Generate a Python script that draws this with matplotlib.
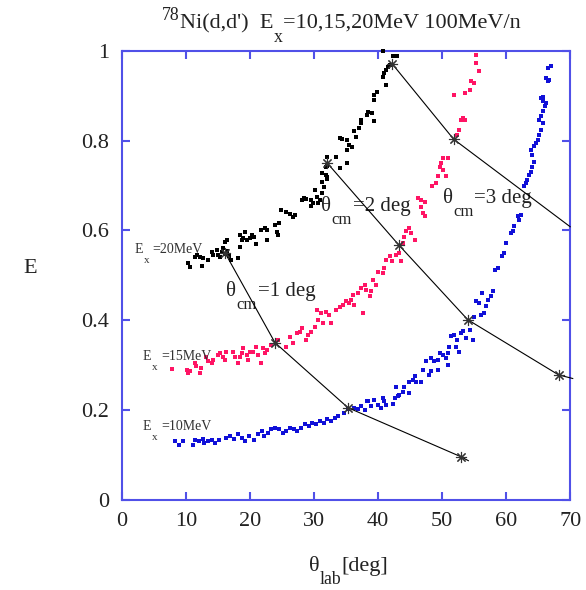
import matplotlib
matplotlib.use("Agg")
import matplotlib.pyplot as plt

# data
ex20_th = [10.4, 10.6, 11.4, 11.8, 12.2, 12.5, 12.6, 13.4, 14.0, 14.2, 14.8, 15.0, 15.3, 15.6,
           15.8, 16.1, 16.4, 16.1, 16.4, 16.8, 17.1, 18.1, 18.4, 18.7, 18.4, 18.9, 19.2, 19.5,
           20.0, 20.3, 20.7, 21.0, 21.8, 22.3, 22.6, 22.6, 23.9, 24.2, 24.6, 24.3, 24.9, 25.7,
           26.2, 26.7, 27.0, 28.1, 28.5, 29.6, 29.8, 30.4, 30.9, 30.6, 29.6, 28.8, 30.1, 31.2,
           31.6, 31.2, 32.0, 31.3, 31.8, 32.1, 31.8, 32.0, 32.1, 33.5, 35.1, 34.0, 34.0, 34.3,
           35.2, 35.5, 35.9, 35.1, 36.3, 36.6, 37.1, 37.3, 37.4, 38.2, 38.4, 39.0, 39.4, 39.3,
           39.4, 39.8, 40.7, 41.2, 41.0, 41.3, 41.5, 41.8, 40.8, 42.3, 42.9]
ex20_e = [0.528, 0.519, 0.541, 0.546, 0.541, 0.521, 0.539, 0.535, 0.552, 0.546, 0.557, 0.546,
          0.541, 0.552, 0.560, 0.548, 0.555, 0.574, 0.579, 0.543, 0.535, 0.539, 0.563, 0.579,
          0.590, 0.584, 0.597, 0.579, 0.584, 0.590, 0.586, 0.570, 0.601, 0.606, 0.601, 0.579,
          0.612, 0.597, 0.617, 0.590, 0.646, 0.641, 0.637, 0.630, 0.635, 0.668, 0.673, 0.668,
          0.661, 0.675, 0.668, 0.661, 0.655, 0.670, 0.690, 0.684, 0.697, 0.708, 0.719, 0.728,
          0.724, 0.715, 0.742, 0.744, 0.764, 0.764, 0.751, 0.739, 0.806, 0.804, 0.802, 0.791,
          0.786, 0.780, 0.822, 0.808, 0.829, 0.840, 0.846, 0.857, 0.864, 0.862, 0.844, 0.891,
          0.902, 0.909, 0.942, 0.924, 0.951, 0.958, 0.964, 0.969, 1.000, 0.989, 0.989]

ex15_th = [7.9, 10.2, 10.6, 10.3, 11.4, 11.6, 12.2, 12.4, 13.2, 13.4, 14.0, 14.2, 15.0, 15.3,
           15.8, 16.1, 16.3, 17.3, 17.6, 18.1, 18.4, 18.7, 18.9, 19.5, 19.7, 20.0, 20.4, 21.0,
           21.2, 21.8, 22.0, 22.3, 22.6, 23.3, 24.4, 25.7, 26.2, 26.7, 27.3, 27.8, 28.2, 28.8,
           29.0, 29.6, 30.1, 30.4, 30.6, 31.1, 31.4, 31.9, 32.4, 32.7, 33.5, 34.0, 34.5, 35.0,
           35.5, 35.8, 36.1, 36.3, 36.8, 37.4, 37.6, 37.9, 38.1, 38.7, 38.9, 39.2, 39.7, 40.0,
           40.7, 41.0, 41.3, 41.8, 42.1, 42.8, 43.3, 43.6, 43.9, 44.1, 44.9, 44.4, 45.2, 45.7,
           44.0, 46.2, 46.7, 47.3, 46.7, 47.0, 47.3, 48.5, 49.1, 49.3, 49.6, 49.8, 50.1, 50.6,
           50.1, 50.9, 52.4, 52.7, 53.0, 53.2, 53.5, 51.9, 53.5, 54.3, 54.5, 55.0, 55.8, 55.3,
           55.3]
ex15_e = [0.291, 0.290, 0.286, 0.283, 0.305, 0.297, 0.283, 0.294, 0.319, 0.308, 0.305, 0.312,
          0.323, 0.327, 0.319, 0.312, 0.330, 0.330, 0.319, 0.305, 0.319, 0.327, 0.338, 0.323,
          0.312, 0.330, 0.330, 0.341, 0.323, 0.305, 0.338, 0.327, 0.334, 0.345, 0.356, 0.341,
          0.363, 0.350, 0.372, 0.374, 0.383, 0.356, 0.367, 0.374, 0.385, 0.423, 0.401, 0.416,
          0.394, 0.419, 0.412, 0.394, 0.423, 0.430, 0.434, 0.442, 0.438, 0.445, 0.457, 0.434,
          0.460, 0.471, 0.416, 0.479, 0.468, 0.453, 0.464, 0.490, 0.479, 0.508, 0.505, 0.516,
          0.535, 0.542, 0.531, 0.546, 0.549, 0.531, 0.572, 0.586, 0.605, 0.598, 0.594, 0.579,
          0.586, 0.672, 0.668, 0.664, 0.653, 0.638, 0.631, 0.698, 0.705, 0.720, 0.742, 0.750,
          0.735, 0.720, 0.761, 0.761, 0.813, 0.824, 0.846, 0.850, 0.846, 0.902, 0.906, 0.913,
          0.932, 0.928, 0.954, 0.973, 0.991]

ex10_th = [8.3, 8.9, 9.6, 11.1, 11.4, 12.0, 12.6, 12.8, 13.4, 14.0, 14.6, 15.2, 16.3, 16.9,
           17.5, 18.1, 18.7, 19.3, 19.8, 20.7, 21.3, 21.9, 22.2, 22.8, 23.3, 23.9, 24.5, 25.1,
           25.7, 26.2, 26.8, 27.4, 28.0, 28.6, 29.2, 29.7, 30.3, 30.9, 31.5, 32.1, 32.7, 33.3,
           33.8, 34.7, 35.3, 36.2, 36.8, 37.3, 38.2, 37.9, 38.4, 38.9, 39.4, 40.0, 40.5, 40.7,
           41.0, 41.3, 42.3, 42.6, 42.8, 43.1, 43.3, 43.9, 44.1, 44.9, 44.9, 45.4, 45.7, 45.9,
           46.7, 47.0, 47.5, 48.0, 48.3, 48.3, 48.8, 49.3, 49.3, 49.6, 50.1, 50.6, 50.9, 50.9,
           51.1, 51.4, 51.9, 52.2, 52.7, 52.4, 53.0, 53.2, 53.7, 54.8, 54.3, 55.0, 55.3, 55.8,
           56.1, 56.6, 56.9, 57.1, 57.6, 57.9, 56.3, 58.2, 58.7, 59.4, 59.7, 60.0, 60.8, 61.0,
           61.3, 61.8, 62.3, 62.0, 62.8, 63.1, 63.3, 63.6, 63.9, 64.1, 64.4, 64.1, 63.9, 64.4,
           64.6, 64.9, 65.2, 65.4, 65.7, 65.2, 65.4, 65.7, 66.0, 65.7, 65.4, 65.7, 66.2, 66.5,
           66.2, 66.7, 66.5, 67.0]
ex10_e = [0.131, 0.123, 0.131, 0.123, 0.134, 0.131, 0.136, 0.127, 0.131, 0.134, 0.127, 0.133,
          0.138, 0.142, 0.136, 0.146, 0.138, 0.131, 0.142, 0.134, 0.146, 0.153, 0.142, 0.149,
          0.157, 0.160, 0.157, 0.149, 0.153, 0.160, 0.157, 0.153, 0.160, 0.168, 0.164, 0.172,
          0.168, 0.175, 0.172, 0.179, 0.175, 0.183, 0.187, 0.194, 0.201, 0.205, 0.201, 0.208,
          0.220, 0.200, 0.219, 0.209, 0.223, 0.212, 0.204, 0.226, 0.219, 0.212, 0.214, 0.226,
          0.252, 0.230, 0.234, 0.241, 0.252, 0.238, 0.263, 0.267, 0.275, 0.263, 0.263, 0.290,
          0.308, 0.278, 0.286, 0.316, 0.308, 0.312, 0.290, 0.327, 0.323, 0.316, 0.327, 0.301,
          0.341, 0.364, 0.367, 0.341, 0.330, 0.356, 0.371, 0.375, 0.360, 0.356, 0.379, 0.408,
          0.442, 0.438, 0.412, 0.416, 0.431, 0.445, 0.453, 0.464, 0.460, 0.512, 0.516, 0.542,
          0.549, 0.572, 0.594, 0.598, 0.609, 0.631, 0.635, 0.624, 0.698, 0.705, 0.713, 0.724,
          0.731, 0.742, 0.753, 0.768, 0.780, 0.787, 0.794, 0.802, 0.813, 0.824, 0.839, 0.846,
          0.854, 0.865, 0.876, 0.887, 0.895, 0.898, 0.884, 0.932, 0.939, 0.935, 0.961, 0.965]

# constant theta_cm lines (asterisks mark Ex = 20, 15, 10, 5 MeV)
cm1_th = [16.1, 23.9, 35.3, 52.9]
cm1_e = [0.550, 0.350, 0.205, 0.096]
cm1_end = (54.1, 0.087)
cm2_th = [32.0, 43.2, 54.0, 68.2]
cm2_e = [0.751, 0.568, 0.401, 0.278]
cm2_end = (70.4, 0.270)
cm3_th = [42.2, 51.8]
cm3_e = [0.971, 0.803]
cm3_end = (70.0, 0.608)

xticks = [0, 10, 20, 30, 40, 50, 60, 70]
yticks = [0, 0.2, 0.4, 0.6, 0.8, 1.0]
ylabels = ["0", "0.2", "0.4", "0.6", "0.8", "1"]

plt.rcParams['font.family'] = ['Liberation Serif', 'DejaVu Serif']

frame_col = '#5050e8'
txt_col = '#222222'

fig = plt.figure(figsize=(5.86, 5.90), dpi=100)
ax = fig.add_axes([0.208, 0.153, 0.765, 0.761])


def gtext(first, pieces, size, color, gap=0.0, raise_sub=3.0):
    # gnuplot style text: chain pieces after `first`, 'sub' pieces drop below baseline
    prev = first
    for s, kind in pieces:
        if kind == 'sub':
            a = ax.annotate(s, xy=(1, 0), xycoords=(prev, first), xytext=(0.3, raise_sub),
                            textcoords='offset points', fontsize=size * 0.8, va='top',
                            ha='left', color=color, annotation_clip=False)
        else:
            a = ax.annotate(s, xy=(1, 0), xycoords=(prev, first), xytext=(gap, 0),
                            textcoords='offset points', fontsize=size, va='bottom',
                            ha='left', color=color, annotation_clip=False)
        prev = a
    return prev


ax.scatter(ex20_th, ex20_e, s=5, marker='s', color='black', lw=0, clip_on=False, zorder=3)
ax.scatter(ex15_th, ex15_e, s=5, marker='s', color='#ff1464', lw=0, clip_on=False, zorder=3)
ax.scatter(ex10_th, ex10_e, s=5, marker='s', color='#1010d8', lw=0, clip_on=False, zorder=3)

star = (8, 2, 0)
for th, e, end in [(cm1_th, cm1_e, cm1_end), (cm2_th, cm2_e, cm2_end), (cm3_th, cm3_e, cm3_end)]:
    ax.plot(th + [end[0]], e + [end[1]], color='black', lw=0.8, clip_on=False, zorder=4)
    ax.plot(th, e, ls='none', marker=star, ms=8, mew=0.8, color='#333333',
            clip_on=False, zorder=5)

# theta_cm labels
for x, y, rest in [(16.3, 0.453, '=1 deg'), (31.1, 0.642, '=2 deg'), (50.1, 0.661, '=3 deg')]:
    t = ax.text(x, y, 'θ', fontsize=15, color=txt_col, va='baseline')
    gtext(t, [('cm', 'sub'), (rest, 'n')], 15, txt_col, gap=0.5)

# Ex labels
for x, y, rest in [(2.0, 0.550, '=20MeV'), (3.3, 0.312, '=15MeV'), (3.3, 0.156, '=10MeV')]:
    t = ax.text(x, y, 'E', fontsize=10, color='#333333', va='baseline')
    gtext(t, [('x', 'sub'), (rest, 'n')], 10, '#333333', gap=2.5, raise_sub=0.0)

ax.set_xlim(0, 70)
ax.set_ylim(0, 1)
ax.set_xticks(xticks)
ax.set_xticklabels([str(v) for v in xticks])
ax.set_yticks(yticks)
ax.set_yticklabels(ylabels)
for sp in ax.spines.values():
    sp.set_color(frame_col)
    sp.set_linewidth(1.5)
ax.tick_params(direction='in', length=6, width=1.5, color=frame_col, labelsize=16,
               labelcolor=txt_col, top=True, right=True, pad=9)

# title
t = fig.text(0.307, 0.9525, "Ni(d,d')  E", fontsize=16, color=txt_col, va='baseline')
ax.annotate('78', xy=(0, 0), xycoords=t, xytext=(0, 6.5), textcoords='offset points',
            fontsize=12.8, ha='right', va='bottom', color=txt_col, annotation_clip=False)
gtext(t, [('x', 'sub'), ('=10,15,20MeV 100MeV/n', 'n')], 16, txt_col)

# axis labels
fig.text(0.052, 0.545, 'E', ha='center', va='center', fontsize=16, color=txt_col)
t = fig.text(0.527, 0.032, 'θ', fontsize=16, color=txt_col, va='baseline')
gtext(t, [('lab', 'sub'), ('[deg]', 'n')], 16, txt_col, raise_sub=3.5)

plt.savefig("out.png", dpi=100)
plt.close()
